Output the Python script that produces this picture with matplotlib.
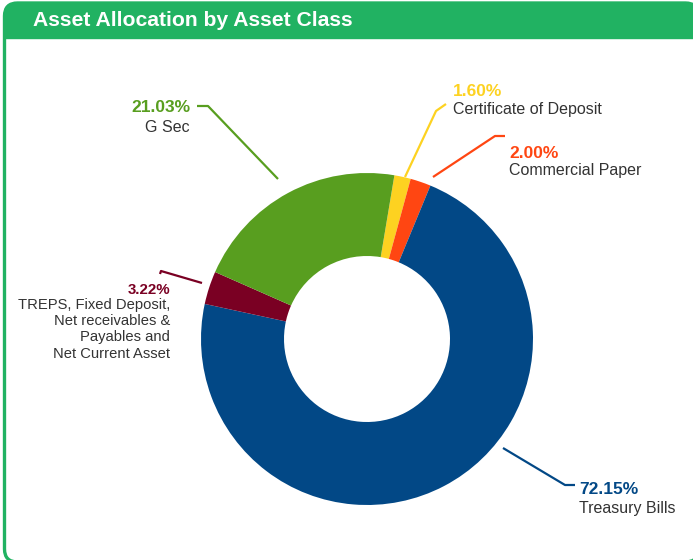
import matplotlib
matplotlib.use("Agg")
import matplotlib.pyplot as plt
from matplotlib.patches import FancyBboxPatch, Rectangle

# ---- data ----
categories = ["Certificate of Deposit", "Commercial Paper", "Treasury Bills",
              "TREPS, Fixed Deposit,\nNet receivables &\nPayables and\nNet Current Asset",
              "G Sec"]
values = [1.60, 2.00, 72.15, 3.22, 21.03]
pct_labels = ["1.60%", "2.00%", "72.15%", "3.22%", "21.03%"]
colors = ["#FDD221", "#FF4612", "#024886", "#7A0023", "#589E1F"]
title = "Asset Allocation by Asset Class"

W, H = 693, 560
fig = plt.figure(figsize=(W / 100, H / 100), dpi=100)
ax = fig.add_axes([0, 0, 1, 1])
ax.set_xlim(0, W)
ax.set_ylim(0, H)
ax.set_aspect("equal")
ax.axis("off")

def Y(yp):
    return H - yp

green = "#21B262"
# panel
panel = FancyBboxPatch((4.5, Y(562)), 694, 559, boxstyle="round,pad=0,rounding_size=13",
                       fc="white", ec=green, lw=2.4, zorder=0, clip_on=False)
ax.add_patch(panel)
hdr = FancyBboxPatch((4.5, Y(38)), 694, 35, boxstyle="round,pad=0,rounding_size=13",
                     fc=green, ec=green, lw=1.0, zorder=1)
ax.add_patch(hdr)
ax.add_patch(Rectangle((4.5, Y(38)), 694, 16, fc=green, ec=green, lw=1.0, zorder=1))
ax.text(33, Y(20.5), title, color="white", fontsize=15.2, fontweight="bold",
        family="Liberation Sans", va="center", ha="left", zorder=2)

# donut
cx, cy, R = 367, Y(339), 166
ax.pie(values, colors=colors, startangle=80.5, counterclock=False,
       center=(cx, cy), radius=R, frame=True,
       wedgeprops=dict(width=R * 0.5, edgecolor="none", linewidth=0))
ax.set_xlim(0, W)
ax.set_ylim(0, H)
ax.axis("off")

# leader lines (pixel layout) and label anchors
leaders = [
    [(405, 177), (436, 111), (446, 104)],
    [(433, 177), (495, 136), (505, 136)],
    [(503, 448), (565, 485), (575, 485)],
    [(202, 283), (161, 271), (160, 274)],
    [(278, 179), (208, 106), (197, 106)],
]
anchors = [  # (x, y_pct, ha, pct_size, label_size, gap)
    (453, 92, "left", 12.5, 11.5, 10),
    (509, 153, "left", 12.5, 11.5, 10),
    (579, 490, "left", 12.5, 11.5, 11),
    (170, 290, "right", 10.8, 10.6, 8),
    (190, 107, "right", 12.5, 11.5, 13),
]
for i, pts in enumerate(leaders):
    xs = [p[0] for p in pts]
    ys = [Y(p[1]) for p in pts]
    ax.plot(xs, ys, color=colors[i], lw=1.6, solid_capstyle="butt", zorder=3)
    x, yp, ha, ps, ls, gap = anchors[i]
    ax.text(x, Y(yp), pct_labels[i], color=colors[i], fontsize=ps, fontweight="bold",
            family="Liberation Sans", ha=ha, va="center", zorder=3)
    ax.text(x, Y(yp + gap), categories[i], color="#333333", fontsize=ls,
            family="Liberation Sans", ha=ha, va="top",
            linespacing=1.12 if ls > 11 else 1.2,
            multialignment=ha, zorder=3)

fig.savefig("out.png", dpi=100)
